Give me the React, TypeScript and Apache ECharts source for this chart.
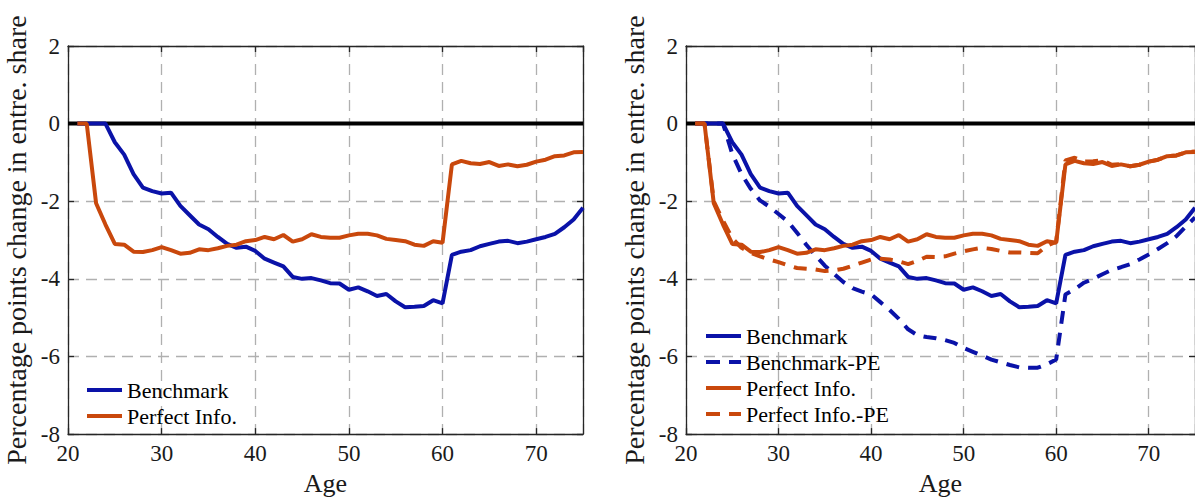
import React, { useEffect, useRef } from "react";
import * as echarts from "echarts";

const ages = [21, 22, 23, 24, 25, 26, 27, 28, 29, 30, 31, 32, 33, 34, 35, 36, 37, 38, 39, 40, 41, 42, 43, 44, 45, 46, 47, 48, 49, 50, 51, 52, 53, 54, 55, 56, 57, 58, 59, 60, 61, 62, 63, 64, 65, 66, 67, 68, 69, 70, 71, 72, 73, 74, 75];

const benchmark = [0, 0, 0, 0, -0.48, -0.8, -1.3, -1.65, -1.74, -1.8, -1.78, -2.12, -2.36, -2.6, -2.72, -2.92, -3.1, -3.2, -3.17, -3.28, -3.48, -3.58, -3.68, -3.95, -4.0, -3.98, -4.04, -4.11, -4.12, -4.28, -4.22, -4.32, -4.44, -4.39, -4.58, -4.73, -4.72, -4.7, -4.55, -4.63, -3.38, -3.3, -3.26, -3.16, -3.1, -3.04, -3.02, -3.08, -3.04, -2.98, -2.92, -2.84, -2.67, -2.47, -2.17];

const perfectInfo = [0, 0, -2.05, -2.6, -3.1, -3.12, -3.3, -3.31, -3.26, -3.18, -3.26, -3.35, -3.33, -3.24, -3.26, -3.21, -3.15, -3.12, -3.03, -3.0, -2.92, -2.98, -2.87, -3.04, -2.98, -2.85, -2.92, -2.94, -2.94, -2.88, -2.84, -2.84, -2.88, -2.97, -3.0, -3.03, -3.12, -3.15, -3.03, -3.07, -1.05, -0.96, -1.02, -1.04, -0.99, -1.09, -1.05, -1.1, -1.06, -0.98, -0.93, -0.84, -0.82, -0.74, -0.73];

const benchmarkPE = [0, 0, 0, 0, -0.78, -1.3, -1.68, -1.98, -2.14, -2.33, -2.52, -2.81, -3.12, -3.4, -3.66, -3.87, -4.08, -4.24, -4.33, -4.4, -4.6, -4.8, -5.03, -5.3, -5.45, -5.5, -5.53, -5.58, -5.65, -5.78, -5.88, -5.98, -6.08, -6.15, -6.22, -6.28, -6.29, -6.29, -6.2, -6.08, -4.4, -4.27, -4.1, -4.0, -3.88, -3.77, -3.7, -3.62, -3.5, -3.37, -3.23, -3.08, -2.9, -2.65, -2.42];

const perfectInfoPE = [0, 0, -2.0, -2.5, -2.95, -3.2, -3.33, -3.42, -3.5, -3.57, -3.65, -3.72, -3.74, -3.76, -3.8, -3.78, -3.74, -3.66, -3.58, -3.5, -3.48, -3.5, -3.55, -3.62, -3.54, -3.43, -3.44, -3.42, -3.35, -3.29, -3.24, -3.2, -3.23, -3.28, -3.32, -3.32, -3.33, -3.34, -3.15, -3.04, -0.95, -0.88, -0.98, -0.97, -0.94, -1.06, -1.04, -1.1, -1.06, -0.98, -0.93, -0.84, -0.82, -0.74, -0.72];

const zeroAges = [20, 75];
const zeroValues = [0, 0];

const X_MIN = 20;
const X_MAX = 75;
const X_STEP = 10;
const Y_MIN = -8;
const Y_MAX = 2;
const Y_STEP = 2;

const Y_LABEL = "Percentage points change in entre. share";
const X_LABEL = "Age";

const FONT = "'Liberation Serif', 'Times New Roman', serif";
const BLUE = "#0a12a8";
const ORANGE = "#c9480c";
const FRAME = "#262626";
const GRID = "#b0b0b0";
const LINE_W = 4;

const SOLID_ICON = "path://M0 0h35v4h-35z";
const DASH_ICON = "path://M0 0h14v4h-14zM23 0h12v4h-12z";

const zip = (xs: number[], ys: number[]) => xs.map((x, i) => [x, ys[i]]);

function axesFor(gridIndex: number) {
  const line = { show: true, onZero: false, lineStyle: { color: FRAME, width: 1.3 } };
  const tick = { show: true, inside: true, length: 6, lineStyle: { color: FRAME, width: 1.3 } };
  const xAxis = [
    {
      type: "value",
      gridIndex,
      min: X_MIN,
      max: X_MAX,
      interval: X_STEP,
      position: "bottom",
      axisLine: line,
      axisTick: tick,
      axisLabel: { color: "#1a1a1a", fontFamily: FONT, fontSize: 23, margin: 8, showMaxLabel: false },
      splitLine: { show: true, lineStyle: { type: [11, 7], color: GRID, width: 1.3 } },
      name: X_LABEL,
      nameLocation: "middle",
      nameGap: 34,
      nameTextStyle: { color: "#1a1a1a", fontFamily: FONT, fontSize: 26 },
    },
    {
      type: "value",
      gridIndex,
      min: X_MIN,
      max: X_MAX,
      interval: X_STEP,
      position: "top",
      axisLine: line,
      axisTick: tick,
      axisLabel: { show: false },
      splitLine: { show: false },
    },
  ];
  const yAxis = [
    {
      type: "value",
      gridIndex,
      min: Y_MIN,
      max: Y_MAX,
      interval: Y_STEP,
      position: "left",
      axisLine: line,
      axisTick: tick,
      axisLabel: { color: "#1a1a1a", fontFamily: FONT, fontSize: 23, margin: 8 },
      splitLine: { show: true, lineStyle: { type: [11, 7], color: GRID, width: 1.3 } },
      name: Y_LABEL,
      nameLocation: "middle",
      nameGap: 38,
      nameRotate: 90,
      nameTextStyle: { color: "#1a1a1a", fontFamily: FONT, fontSize: 28 },
    },
    {
      type: "value",
      gridIndex,
      min: Y_MIN,
      max: Y_MAX,
      interval: Y_STEP,
      position: "right",
      axisLine: line,
      axisTick: tick,
      axisLabel: { show: false },
      splitLine: { show: false },
    },
  ];
  return { xAxis, yAxis };
}

function lineSeries(name: string, values: number[], color: string, dashed: boolean, axisIndex: number) {
  return {
    type: "line",
    name,
    xAxisIndex: axisIndex,
    yAxisIndex: axisIndex,
    data: zip(ages, values),
    symbol: "none",
    lineStyle: { color, width: LINE_W, type: dashed ? [13, 9] : "solid" },
    itemStyle: { color },
    z: 3,
  };
}

function zeroSeries(axisIndex: number) {
  return {
    type: "line",
    name: "zero",
    xAxisIndex: axisIndex,
    yAxisIndex: axisIndex,
    data: zip(zeroAges, zeroValues),
    symbol: "none",
    silent: true,
    lineStyle: { color: "#000000", width: 4 },
    itemStyle: { color: "#000000" },
    z: 2,
  };
}

const legendItem = (name: string, color: string, dashed: boolean) => ({
  name,
  icon: dashed ? DASH_ICON : SOLID_ICON,
  itemStyle: { color, borderWidth: 0, opacity: 1 },
});

export default function App() {
  const ref = useRef<HTMLDivElement>(null);
  useEffect(() => {
    if (!ref.current) return;
    const chart = echarts.init(ref.current, undefined, { renderer: "svg" });
    const a0 = axesFor(0);
    const a1 = axesFor(1);
    const legendText = { color: "#000000", fontFamily: FONT, fontSize: 22, lineHeight: 22 };
    chart.setOption({
      animation: false,
      backgroundColor: "#ffffff",
      grid: [
        { left: 68, top: 46, width: 515, height: 392 },
        { left: 686, top: 46, width: 515, height: 392 },
      ],
      xAxis: [...a0.xAxis, ...a1.xAxis],
      yAxis: [...a0.yAxis, ...a1.yAxis],
      legend: [
        {
          data: [legendItem("Benchmark", BLUE, false), legendItem("Perfect Info.", ORANGE, false)],
          orient: "vertical",
          left: 82,
          top: 374,
          itemWidth: 35,
          itemHeight: LINE_W,
          itemGap: 4,
          textStyle: legendText,
          selectedMode: false,
        },
        {
          data: [
            legendItem("Benchmark", BLUE, false),
            legendItem("Benchmark-PE", BLUE, true),
            legendItem("Perfect Info.", ORANGE, false),
            legendItem("Perfect Info.-PE", ORANGE, true),
          ],
          orient: "vertical",
          left: 701,
          top: 320,
          itemWidth: 35,
          itemHeight: LINE_W,
          itemGap: 4,
          textStyle: legendText,
          selectedMode: false,
        },
      ],
      series: [
        zeroSeries(0),
        lineSeries("Benchmark", benchmark, BLUE, false, 0),
        lineSeries("Perfect Info.", perfectInfo, ORANGE, false, 0),
        { ...zeroSeries(1), xAxisIndex: 2, yAxisIndex: 2 },
        lineSeries("Benchmark", benchmark, BLUE, false, 2),
        lineSeries("Benchmark-PE", benchmarkPE, BLUE, true, 2),
        lineSeries("Perfect Info.", perfectInfo, ORANGE, false, 2),
        lineSeries("Perfect Info.-PE", perfectInfoPE, ORANGE, true, 2),
      ],
    });
    return () => chart.dispose();
  }, []);
  return (
    <div
      ref={ref}
      style={{ position: "fixed", left: 0, top: 0, width: 1195, height: 501, background: "#fff" }}
    />
  );
}
